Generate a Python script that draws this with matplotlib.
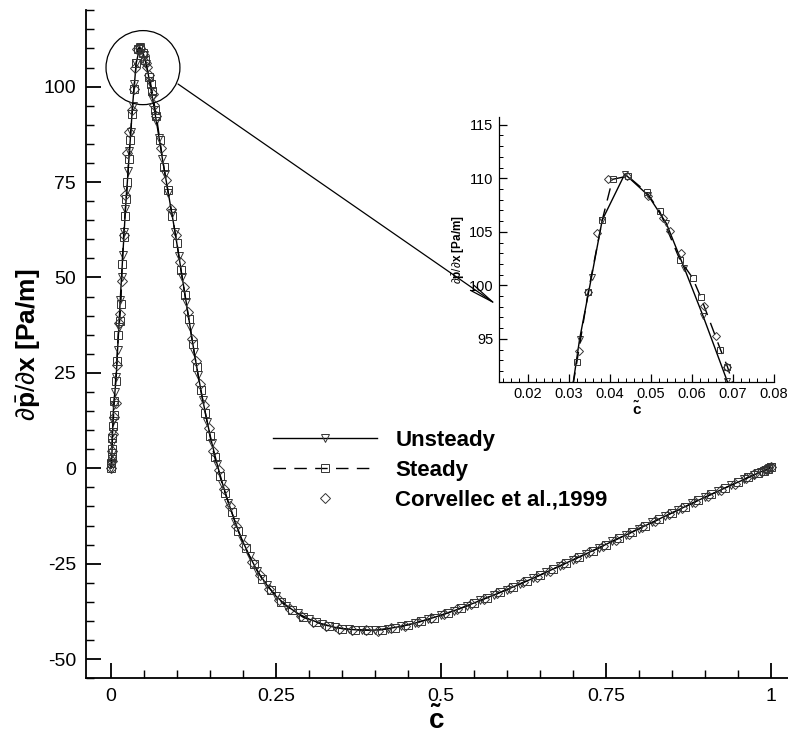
import matplotlib
matplotlib.use("Agg")
import matplotlib.pyplot as plt
from matplotlib.patches import Ellipse
from matplotlib.ticker import MultipleLocator, FixedLocator
import numpy as np

plt.rcParams["font.family"] = ["Liberation Sans", "DejaVu Sans"]
plt.rcParams["mathtext.fontset"] = "custom"
plt.rcParams["mathtext.rm"] = "Liberation Sans"
plt.rcParams["mathtext.bf"] = "Liberation Sans:bold"
plt.rcParams["mathtext.it"] = "Liberation Sans:italic"
plt.rcParams["axes.unicode_minus"] = False

# pressure gradient along the chord, present computation
unsteady_x = [0.0, 0.0005, 0.001, 0.0015, 0.002, 0.0025, 0.003, 0.004, 0.006, 0.008,
              0.010, 0.012, 0.014, 0.016, 0.018, 0.020, 0.022, 0.024, 0.026, 0.028,
              0.030, 0.0327, 0.0356, 0.0382, 0.0437, 0.0494, 0.0538, 0.0582, 0.0628, 0.0686,
              0.073, 0.078, 0.082, 0.087, 0.092, 0.097, 0.103, 0.108, 0.114, 0.120,
              0.126, 0.132, 0.139, 0.146, 0.153, 0.161, 0.169, 0.178, 0.188, 0.198,
              0.210, 0.222, 0.236, 0.250, 0.266, 0.283, 0.300, 0.320, 0.340, 0.360,
              0.380, 0.400, 0.420, 0.440, 0.460, 0.480, 0.500, 0.520, 0.540, 0.560,
              0.580, 0.600, 0.620, 0.640, 0.660, 0.680, 0.700, 0.720, 0.740, 0.760,
              0.780, 0.800, 0.820, 0.840, 0.860, 0.880, 0.900, 0.920, 0.940, 0.960,
              0.975, 0.985, 0.992, 0.997, 1.0]
unsteady_y = [0.0, 1.0, 2.5, 4.0, 6.5, 9.5, 12.5, 16.5, 20.0, 24.0,
              31.0, 37.0, 44.0, 50.0, 56.0, 62.0, 68.0, 73.0, 78.0, 83.0,
              88.0, 95.0, 100.8, 106.1, 110.4, 108.4, 105.8, 101.6, 97.1, 91.1,
              86.5, 81.0, 77.0, 72.0, 67.0, 62.0, 55.5, 50.0, 43.5, 37.0,
              30.5, 24.5, 18.0, 12.0, 6.5, 1.0, -4.0, -9.0, -14.0, -18.5,
              -23.0, -27.0, -30.5, -33.5, -36.0, -38.0, -39.5, -40.8, -41.7, -42.2,
              -42.4, -42.4, -42.0, -41.4, -40.6, -39.6, -38.5, -37.3, -36.0, -34.6,
              -33.2, -31.8, -30.3, -28.8, -27.2, -25.6, -24.0, -22.4, -20.8, -19.1,
              -17.5, -15.8, -14.2, -12.5, -10.9, -9.2, -7.6, -6.0, -4.4, -2.9,
              -1.7, -0.9, -0.4, 0.0, 0.3]

steady_x = [0.0, 0.0005, 0.001, 0.0015, 0.002, 0.003, 0.004, 0.005, 0.007, 0.009,
            0.011, 0.013, 0.015, 0.017, 0.019, 0.021, 0.023, 0.025, 0.027, 0.029,
            0.032, 0.0348, 0.0382, 0.0407, 0.0444, 0.049, 0.0522, 0.0571, 0.0602, 0.0622,
            0.067, 0.0687, 0.074, 0.080, 0.086, 0.093, 0.100, 0.106, 0.112, 0.118,
            0.124, 0.130, 0.136, 0.143, 0.150, 0.157, 0.165, 0.173, 0.183, 0.193,
            0.204, 0.216, 0.229, 0.243, 0.258, 0.274, 0.291, 0.310, 0.330, 0.350,
            0.370, 0.390, 0.410, 0.430, 0.450, 0.470, 0.490, 0.510, 0.530, 0.550,
            0.570, 0.590, 0.610, 0.630, 0.650, 0.670, 0.690, 0.710, 0.730, 0.750,
            0.770, 0.790, 0.810, 0.830, 0.850, 0.870, 0.890, 0.910, 0.930, 0.950,
            0.965, 0.980, 0.990, 0.996, 1.0]
steady_y = [0.0, 1.5, 3.0, 5.0, 8.0, 11.0, 14.0, 17.5, 23.0, 28.0,
            35.0, 38.5, 43.0, 53.5, 60.5, 66.0, 70.5, 75.0, 81.0, 86.0,
            92.8, 99.4, 106.1, 109.9, 110.2, 108.7, 106.9, 102.4, 100.7, 98.9,
            94.0, 92.4, 86.0, 79.0, 73.0, 66.0, 59.0, 52.0, 45.5, 39.0,
            32.5, 26.5, 20.5, 14.5, 8.5, 3.0, -2.0, -6.5, -11.5, -16.5,
            -21.0, -25.0, -29.0, -32.0, -35.0, -37.0, -39.0, -40.3, -41.3, -42.0,
            -42.3, -42.4, -42.3, -41.8, -41.0, -40.1, -39.1, -37.9, -36.7, -35.3,
            -33.9, -32.5, -31.0, -29.5, -28.0, -26.4, -24.8, -23.2, -21.6, -20.0,
            -18.3, -16.7, -15.0, -13.4, -11.7, -10.1, -8.4, -6.8, -5.2, -3.6,
            -2.4, -1.3, -0.6, -0.1, 0.3]

# measurements of Corvellec et al. (1999)
corv_x = [0.0, 0.001, 0.002, 0.003, 0.005, 0.007, 0.009, 0.012, 0.014, 0.016,
          0.019, 0.022, 0.025, 0.028, 0.0326, 0.0348, 0.037, 0.0395, 0.0442, 0.0494,
          0.053, 0.0547, 0.0574, 0.063, 0.0658, 0.0687, 0.076, 0.084, 0.091, 0.098,
          0.104, 0.110, 0.117, 0.123, 0.129, 0.135, 0.141, 0.148, 0.155, 0.163,
          0.171, 0.180, 0.190, 0.201, 0.213, 0.226, 0.240, 0.255, 0.271, 0.288,
          0.306, 0.326, 0.346, 0.366, 0.386, 0.405, 0.425, 0.445, 0.465, 0.485,
          0.505, 0.525, 0.545, 0.565, 0.585, 0.605, 0.625, 0.645, 0.665, 0.685,
          0.705, 0.725, 0.745, 0.765, 0.785, 0.805, 0.825, 0.845, 0.865, 0.885,
          0.905, 0.925, 0.945, 0.962, 0.975, 0.986, 0.994, 1.0]
corv_y = [0.0, 2.0, 4.5, 9.0, 13.5, 17.0, 27.0, 38.0, 40.5, 49.0,
          61.0, 71.5, 82.5, 88.0, 93.9, 99.4, 104.9, 109.9, 110.2, 108.3,
          106.3, 105.1, 103.0, 98.1, 95.3, 92.4, 84.0, 75.5, 68.0, 61.0,
          54.0, 47.5, 41.0, 34.0, 28.0, 22.0, 16.5, 10.5, 4.5, -0.5,
          -5.5, -10.0, -15.0, -20.0, -24.5, -28.0, -31.5, -34.5, -36.8, -38.8,
          -40.2, -41.4, -42.0, -42.4, -42.3, -42.6, -41.9, -41.2, -40.4, -39.3,
          -38.2, -36.9, -35.6, -34.2, -32.8, -31.4, -29.9, -28.4, -26.8, -25.2,
          -23.6, -22.0, -20.4, -18.7, -17.1, -15.4, -13.8, -12.1, -10.5, -8.8,
          -7.2, -5.6, -4.0, -2.6, -1.6, -0.8, -0.2, 0.3]

labels = ["Unsteady", "Steady", "Corvellec et al.,1999"]
xticks = [0, 0.25, 0.5, 0.75, 1]
xticklabels = ["0", "0.25", "0.5", "0.75", "1"]
yticks = [-50, -25, 0, 25, 50, 75, 100]
zoom_xticks = [0.02, 0.03, 0.04, 0.05, 0.06, 0.07, 0.08]
zoom_yticks = [95, 100, 105, 110, 115]

ylab = r"$\partial\bar{\mathbf{p}}/\partial\mathbf{x}$ [Pa/m]"
xlab = "c\u0303"
mk = "#333333"


def draw_series(ax, ms):
    ax.plot(unsteady_x, unsteady_y, color="k", lw=1.0, marker="v", ms=ms,
            mfc="none", mec=mk, mew=0.7, label=labels[0])
    ax.plot(steady_x, steady_y, color="k", lw=1.0, ls=(0, (9, 6)), marker="s",
            ms=ms * 0.9, mfc="none", mec=mk, mew=0.7, label=labels[1])
    ax.plot(corv_x, corv_y, ls="none", marker="D", ms=ms * 0.8,
            mfc="none", mec=mk, mew=0.7, label=labels[2])


def style_axes(ax, width, major, minor):
    for s in ["top", "right"]:
        ax.spines[s].set_visible(False)
    for s in ["left", "bottom"]:
        ax.spines[s].set_linewidth(width)
    ax.tick_params(which="major", direction="in", length=major, width=width)
    ax.tick_params(which="minor", direction="in", length=minor, width=width * 0.8)


fig = plt.figure(figsize=(7.88, 7.34), dpi=100)
ax = fig.add_axes([0.109, 0.076, 0.891, 0.910])
draw_series(ax, 6)
ax.set_xlim(-0.038, 1.026)
ax.set_ylim(-55, 120)
ax.xaxis.set_major_locator(FixedLocator(xticks))
ax.set_xticklabels(xticklabels)
ax.xaxis.set_minor_locator(MultipleLocator(0.05))
ax.yaxis.set_major_locator(FixedLocator(yticks))
ax.yaxis.set_minor_locator(MultipleLocator(5))
style_axes(ax, 1.3, 11, 6)
ax.tick_params(which="major", labelsize=14, pad=7)
ax.set_xlabel(xlab, fontsize=20, fontweight="bold", labelpad=2)
ax.set_ylabel(ylab, fontsize=19, fontweight="bold", labelpad=1)

leg = ax.legend(loc="upper left", bbox_to_anchor=(0.3464, 0.4142), bbox_transform=fig.transFigure,
                frameon=False, fontsize=16, handlelength=4.7, handletextpad=0.8,
                labelspacing=0.4, borderpad=0, borderaxespad=0, numpoints=1)
for t in leg.get_texts():
    t.set_fontweight("bold")

# zoomed view of the suction peak
axin = fig.add_axes([0.633, 0.480, 0.349, 0.361])
draw_series(axin, 5)
axin.set_xlim(0.013, 0.08)
axin.set_ylim(91, 115.75)
axin.xaxis.set_major_locator(FixedLocator(zoom_xticks))
axin.xaxis.set_minor_locator(MultipleLocator(0.002))
axin.yaxis.set_major_locator(FixedLocator(zoom_yticks))
axin.yaxis.set_minor_locator(MultipleLocator(1))
style_axes(axin, 0.9, 6, 3)
axin.tick_params(which="major", labelsize=10.5, pad=4)
axin.set_xlabel(xlab, fontsize=11, fontweight="bold", labelpad=1)
axin.set_ylabel(ylab, fontsize=8.5, fontweight="bold", labelpad=1)

# circle around the peak and pointer to the zoomed view
cx = (axin.get_xlim()[0] + axin.get_xlim()[1]) / 2 + 0.002
cy = (axin.get_ylim()[0] + axin.get_ylim()[1]) / 2 + 1.6
ax.add_patch(Ellipse((cx, cy), 0.112, 19.4, fill=False, color="k", lw=0.9))
ax.annotate("", xy=(497, 429), xycoords="figure pixels",
            xytext=(178, 650), textcoords="figure pixels",
            arrowprops=dict(arrowstyle="->,head_length=1.8,head_width=0.22",
                            color="k", lw=0.9, shrinkA=0, shrinkB=0))

fig.savefig("out.png", dpi=100)
